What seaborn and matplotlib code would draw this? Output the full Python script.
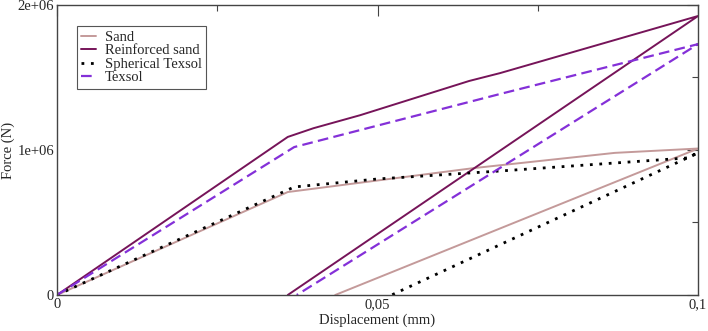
import numpy as np
import pandas as pd
import matplotlib
matplotlib.use('Agg')
import matplotlib.pyplot as plt
import seaborn as sns

# Loading / unloading paths (displacement in mm, force in N)
sand_x = [0, 0.036, 0.065, 0.087, 0.1, 0.0434]
sand_y = [0, 0.71e6, 0.875e6, 0.98e6, 1.01e6, 0]

reinforced_x = [0, 0.036, 0.040, 0.0473, 0.0643, 0.0691, 0.1, 0.036]
reinforced_y = [0, 1.09e6, 1.15e6, 1.24e6, 1.476e6, 1.53e6, 1.924e6, 0]

spherical_x = [0, 0.037, 0.05, 0.0691, 0.0983, 0.1, 0.0522]
spherical_y = [0, 0.745e6, 0.80e6, 0.855e6, 0.945e6, 0.98e6, 0]

texsol_x = [0, 0.037, 0.0691, 0.1, 0.0374]
texsol_y = [0, 1.02e6, 1.386e6, 1.73e6, 0]

x_ticks = [0, 0.05, 0.1]
x_tick_labels = ["0", "0,05", "0,1"]
y_ticks = [0, 1e6, 2e6]
y_tick_labels = ["0", "1e+06", "2e+06"]

sns.set_style("white")
plt.rcParams['font.family'] = ['Liberation Serif', 'DejaVu Serif']
plt.rcParams['font.size'] = 10.5

fig = plt.figure(figsize=(7.08, 3.31), dpi=100)
ax = fig.add_axes([0.0805, 0.1088, 0.9055, 0.8762])

series = [
    ("Sand", sand_x, sand_y, dict(color="#c49a9a", lw=1.4, ls="-")),
    ("Reinforced sand", reinforced_x, reinforced_y, dict(color="#761459", lw=1.4, ls="-")),
    ("Spherical Texsol", spherical_x, spherical_y, dict(color="black", lw=2.0, ls=(0, (1, 2.4)))),
    ("Texsol", texsol_x, texsol_y, dict(color="#8430d8", lw=1.6, ls=(0, (4.8, 2.4)))),
]

for name, xs, ys, st in series:
    df = pd.DataFrame({"x": xs, "y": ys})
    sns.lineplot(data=df, x="x", y="y", sort=False, estimator=None, ax=ax,
                 label=name, color=st["color"], linewidth=st["lw"], linestyle=st["ls"])

ax.set_xlim(0, 0.1)
ax.set_ylim(0, 2e6)
ax.set_xticks(x_ticks)
ax.set_xticklabels(x_tick_labels)
ax.set_yticks(y_ticks)
ax.set_yticklabels(y_tick_labels)
ax.set_xticks([0.025, 0.075], minor=True)
ax.set_yticks([0.5e6, 1.5e6], minor=True)
ax.tick_params(which='both', direction='in', top=True, right=True, color='#444444', width=0.8)
ax.tick_params(which='major', length=8, labelsize=10.5, pad=2)
ax.tick_params(which='minor', length=4)
for s in ax.spines.values():
    s.set_color('#444444')
    s.set_linewidth(1.0)

ax.set_xlabel("Displacement (mm)", fontsize=10.5, labelpad=2)
ax.set_ylabel("Force (N)", fontsize=10.5)
ax.yaxis.set_label_coords(-0.065, 0.5)

leg = ax.legend(loc='upper left', bbox_to_anchor=(0.031, 0.927), fancybox=False,
                framealpha=1, edgecolor='#555555', handlelength=1.0, handletextpad=0.6,
                borderpad=0.3, labelspacing=0.02, borderaxespad=0, fontsize=10.5)
leg.get_frame().set_linewidth(0.8)

plt.savefig('out.png', dpi=100)
plt.close()
